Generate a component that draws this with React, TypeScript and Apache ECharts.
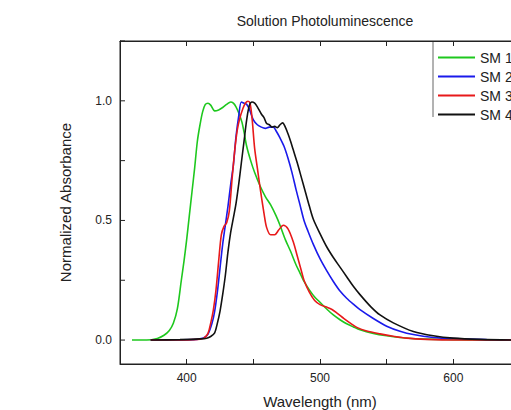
import React, { useEffect, useRef } from "react";
import * as echarts from "echarts";

const seriesNames = ["SM 1", "SM 2", "SM 3", "SM 4"];
const seriesColors = ["#1ec81e", "#1a1aeb", "#e8191a", "#111111"];

const sm1Wavelength = [359, 370, 378, 383, 387, 390, 393, 396, 398, 400, 402, 404, 406, 408, 410, 412, 414, 416, 418, 421, 424, 427, 430, 433, 435, 437, 439, 441.5, 443, 445, 448, 451, 455, 459, 463, 467, 470, 474, 478, 482, 485, 488, 492, 496, 500, 505, 510, 515, 520, 525, 530, 540, 550, 560, 575, 600, 625, 650];
const sm1Values = [0, 0, 0.007, 0.02, 0.04, 0.07, 0.13, 0.25, 0.33, 0.42, 0.52, 0.62, 0.72, 0.83, 0.9, 0.955, 0.985, 0.99, 0.982, 0.958, 0.962, 0.972, 0.985, 0.995, 0.99, 0.975, 0.95, 0.91, 0.87, 0.81, 0.75, 0.7, 0.645, 0.6, 0.565, 0.52, 0.48, 0.42, 0.37, 0.315, 0.28, 0.245, 0.21, 0.18, 0.158, 0.13, 0.105, 0.085, 0.068, 0.055, 0.043, 0.028, 0.018, 0.011, 0.005, 0.002, 0, 0];

const sm2Wavelength = [373, 390, 405, 410, 413, 416, 419, 421, 423, 425, 427, 429, 431, 433, 435, 437, 439, 441, 443, 445, 447, 450, 453, 456, 459, 462, 465, 467, 470, 473, 476, 479, 482, 485, 488, 491, 495, 500, 505, 510, 515, 520, 525, 530, 540, 550, 560, 570, 585, 600, 625, 650];
const sm2Values = [0, 0, 0.002, 0.005, 0.01, 0.025, 0.07, 0.12, 0.2, 0.3, 0.4, 0.48, 0.56, 0.65, 0.73, 0.85, 0.935, 0.995, 0.99, 0.985, 0.965, 0.92, 0.9, 0.89, 0.885, 0.89, 0.89, 0.875, 0.845, 0.81, 0.76, 0.7, 0.63, 0.565, 0.5, 0.455, 0.4, 0.34, 0.29, 0.245, 0.205, 0.175, 0.15, 0.127, 0.09, 0.058, 0.037, 0.023, 0.011, 0.006, 0.002, 0];

const sm3Wavelength = [373, 395, 405, 410, 413, 416, 418, 420, 422, 424, 426, 428, 430, 432, 434, 436, 438, 440, 442, 444, 446, 447.5, 449, 451, 453, 455.5, 458, 460, 463, 466, 469, 472.5, 476, 480, 483, 486, 488, 492, 496, 500, 505, 509, 513, 518, 523, 528, 535, 545, 555, 565, 580, 600, 650];
const sm3Values = [0, 0, 0.002, 0.004, 0.008, 0.028, 0.07, 0.125, 0.21, 0.33, 0.44, 0.475, 0.49, 0.54, 0.67, 0.79, 0.88, 0.93, 0.965, 0.99, 0.998, 0.99, 0.93, 0.8, 0.72, 0.62, 0.53, 0.47, 0.44, 0.44, 0.46, 0.48, 0.465, 0.41, 0.35, 0.29, 0.25, 0.2, 0.165, 0.148, 0.138, 0.128, 0.112, 0.09, 0.07, 0.052, 0.038, 0.026, 0.016, 0.008, 0.003, 0, 0];

const sm4Wavelength = [373, 395, 410, 415, 418, 421, 423, 425, 427, 429, 431, 433, 435, 437, 439, 441, 443, 445, 447, 449, 451, 453, 456, 458, 460, 462, 464, 466, 468, 470, 472, 474, 476, 478, 480, 483, 486, 489, 492, 495, 500, 505, 510, 515, 520, 525, 530, 538, 545, 555, 570, 585, 600, 620, 650];
const sm4Values = [0, 0.002, 0.005, 0.008, 0.015, 0.03, 0.07, 0.12, 0.19, 0.27, 0.37, 0.45, 0.51, 0.57, 0.65, 0.74, 0.83, 0.92, 0.98, 0.995, 0.99, 0.975, 0.945, 0.93, 0.905, 0.9, 0.89, 0.893, 0.888, 0.9, 0.908, 0.89, 0.862, 0.83, 0.794, 0.74, 0.68, 0.62, 0.56, 0.505, 0.445, 0.39, 0.345, 0.305, 0.265, 0.225, 0.19, 0.14, 0.105, 0.072, 0.036, 0.018, 0.008, 0.003, 0];

const xTickLabels = [400, 500, 600];
const yTickLabels = [0, 0.5, 1.0];
const yTickMarks = [0, 0.25, 0.5, 0.75, 1.0, 1.25];

const FONT = "Liberation Sans, Arial, sans-serif";

function zip(xs: number[], ys: number[]) {
  return xs.map((x, i) => [x, ys[i]]);
}

export default function App() {
  const ref = useRef<HTMLDivElement>(null);
  useEffect(() => {
    if (!ref.current) return;
    const chart = echarts.init(ref.current, null, { renderer: "svg" });
    const allX = [sm1Wavelength, sm2Wavelength, sm3Wavelength, sm4Wavelength];
    const allY = [sm1Values, sm2Values, sm3Values, sm4Values];
    const axisLine = { show: true, onZero: false, lineStyle: { color: "#222", width: 1 } };
    const xTick = { show: true, inside: true, length: 5, lineStyle: { color: "#222" } };
    chart.setOption({
      animation: false,
      backgroundColor: "#fff",
      title: {
        text: "Solution Photoluminescence",
        left: 320,
        top: 9,
        textAlign: "center",
        textStyle: { fontFamily: FONT, fontSize: 14, fontWeight: "normal", color: "#222" },
      },
      legend: {
        orient: "vertical",
        left: 433,
        top: 43,
        itemWidth: 37,
        itemHeight: 2,
        itemGap: 0,
        icon: "rect",
        data: seriesNames,
        textStyle: { fontFamily: FONT, fontSize: 14, color: "#222", lineHeight: 19 },
      },
      graphic: [
        { type: "line", shape: { x1: 433, y1: 41, x2: 433, y2: 117 }, style: { stroke: "#666", lineWidth: 1 } },
      ],
      grid: {
        left: 120,
        top: 41,
        width: 400,
        height: 323,
        show: true,
        borderColor: "#222",
        borderWidth: 1,
        containLabel: false,
        outerBoundsMode: "none",
      },
      xAxis: [
        {
          type: "value",
          min: 350,
          max: 650,
          interval: 50,
          position: "bottom",
          axisLine,
          axisTick: xTick,
          splitLine: { show: false },
          name: "Wavelength (nm)",
          nameLocation: "middle",
          nameGap: 30,
          nameTextStyle: { fontFamily: FONT, fontSize: 15, color: "#222" },
          axisLabel: {
            margin: 8,
            fontFamily: FONT,
            fontSize: 12,
            color: "#222",
            formatter: (v: number) => (xTickLabels.includes(Math.round(v)) ? String(Math.round(v)) : ""),
          },
        },
        {
          type: "value",
          min: 350,
          max: 650,
          interval: 50,
          position: "top",
          axisLine,
          axisTick: xTick,
          splitLine: { show: false },
          axisLabel: { show: false },
        },
      ],
      yAxis: [
        {
          type: "value",
          min: -0.1,
          max: 1.25,
          interval: 0.05,
          axisLine,
          axisTick: { show: false },
          splitLine: { show: false },
          name: "Normalized Absorbance",
          nameLocation: "middle",
          nameGap: 47,
          nameTextStyle: { fontFamily: FONT, fontSize: 15, color: "#222" },
          axisLabel: {
            margin: 8,
            fontFamily: FONT,
            fontSize: 12,
            color: "#222",
            formatter: (v: number) =>
              yTickLabels.some((t) => Math.abs(t - v) < 1e-6) ? v.toFixed(1) : "",
          },
        },
      ],
      series: [
        ...seriesNames.map((name, i) => ({
          name,
          type: "line",
          xAxisIndex: 0,
          yAxisIndex: 0,
          data: zip(allX[i], allY[i]),
          showSymbol: false,
          symbol: "none",
          smooth: 0.3,
          lineStyle: { color: seriesColors[i], width: 1.6 },
          itemStyle: { color: seriesColors[i] },
          z: 2 + i,
        })),
        {
          name: "yticks",
          type: "custom",
          silent: true,
          clip: false,
          data: yTickMarks.map((v) => [350, v]),
          renderItem: (params: any, api: any) => {
            const p = api.coord([api.value(0), api.value(1)]);
            return {
              type: "line",
              shape: { x1: p[0], y1: p[1], x2: p[0] + 5, y2: p[1] },
              style: { stroke: "#222", lineWidth: 1 },
            };
          },
          z: 10,
        },
      ],
    });
    return () => chart.dispose();
  }, []);
  return (
    <div
      ref={ref}
      style={{ position: "fixed", left: 0, top: 0, width: 511, height: 410 }}
    />
  );
}
